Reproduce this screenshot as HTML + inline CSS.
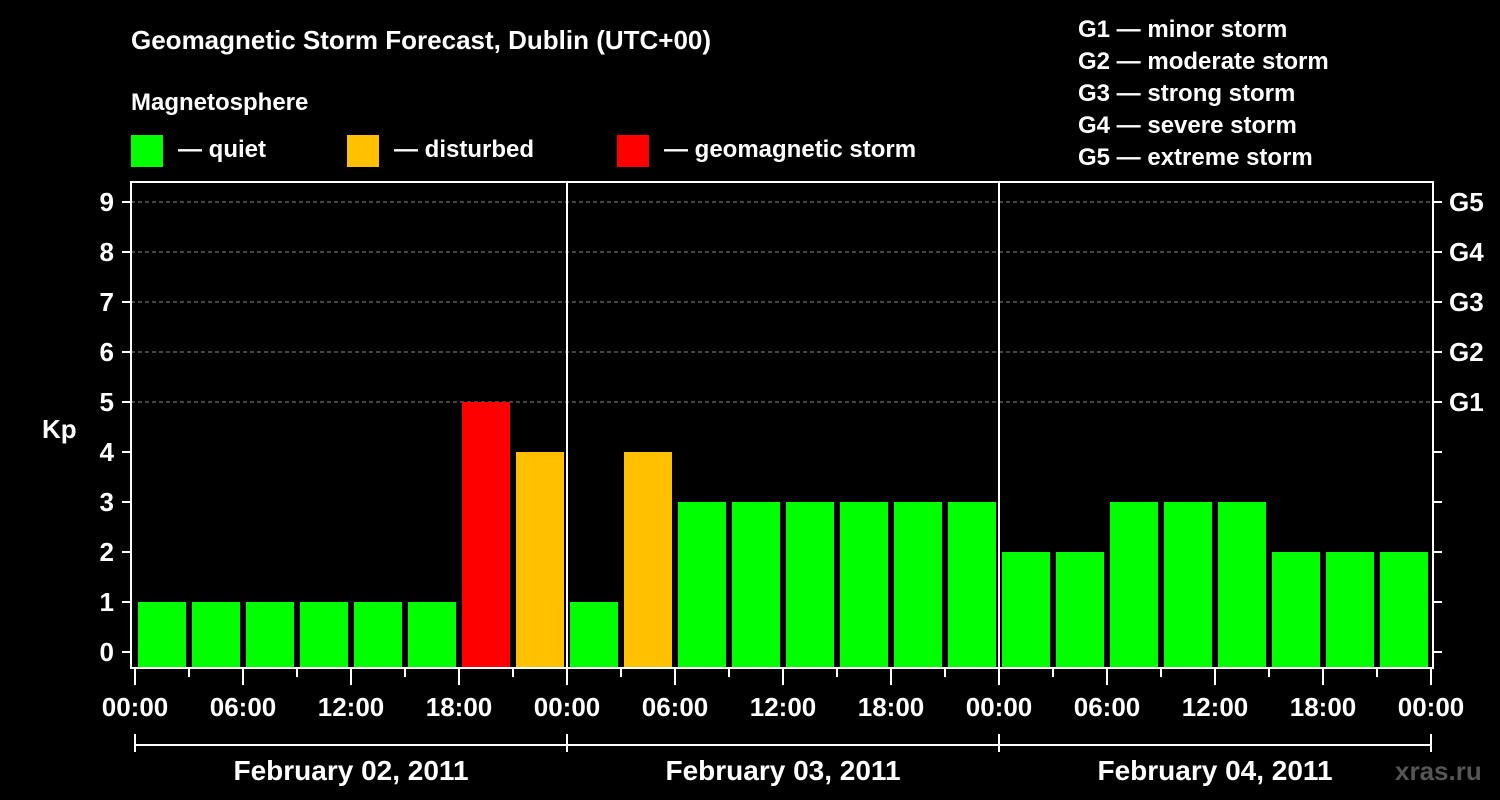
<!DOCTYPE html>
<html><head><meta charset="utf-8"><style>
html,body{margin:0;padding:0;background:#000;}
svg{display:block;font-family:"Liberation Sans",Arial,sans-serif;font-weight:bold;}
</style></head><body>
<svg id="chart" width="1500" height="800" viewBox="0 0 1500 800" xmlns="http://www.w3.org/2000/svg">
<rect width="1500" height="800" fill="#000"/>
<text x="131" y="49" fill="#fff" font-size="26">Geomagnetic Storm Forecast, Dublin (UTC+00)</text>
<text x="131" y="110" fill="#fff" font-size="24">Magnetosphere</text>
<g><rect x="131" y="135" width="32" height="32" fill="#00ff00"/><text x="178" y="157" fill="#fff" font-size="24">— quiet</text></g>
<g><rect x="347" y="135" width="32" height="32" fill="#ffc000"/><text x="394" y="157" fill="#fff" font-size="24">— disturbed</text></g>
<g><rect x="617" y="135" width="32" height="32" fill="#ff0000"/><text x="664" y="157" fill="#fff" font-size="24">— geomagnetic storm</text></g>
<g fill="#fff" font-size="24">
<text x="1078" y="37">G1 — minor storm</text>
<text x="1078" y="69">G2 — moderate storm</text>
<text x="1078" y="101">G3 — strong storm</text>
<text x="1078" y="133">G4 — severe storm</text>
<text x="1078" y="165">G5 — extreme storm</text>
</g>
<text x="42" y="438" fill="#fff" font-size="26">Kp</text>
<text x="1395" y="780" fill="#555" font-size="26">xras.ru</text>
<g id="grid"></g><g id="bars"></g><g id="axes"></g>
</svg>
<script>
const values = [1,1,1,1,1,1,5,4, 1,4,3,3,3,3,3,3, 2,2,3,3,3,2,2,2];
const dayLabels = ["February 02, 2011","February 03, 2011","February 04, 2011"];
const timeLabels = ["00:00","06:00","12:00","18:00"];
const kpTicks = [0,1,2,3,4,5,6,7,8,9];
const gLabels = ["G1","G2","G3","G4","G5"];

const NS="http://www.w3.org/2000/svg";
const x0=135, slot=54, plotL=131, plotR=1433, plotT=182, plotB=668;
const xPos=i=>x0+i*slot;
const yPos=v=>652-v*50;
function mk(tag,attrs,parent,text){const e=document.createElementNS(NS,tag);for(const k in attrs)e.setAttribute(k,attrs[k]);if(text!==undefined)e.textContent=text;parent.appendChild(e);return e;}
const grid=document.getElementById('grid'),bars=document.getElementById('bars'),axes=document.getElementById('axes');
function color(v){return v>=5?"#ff0000":(v>=4?"#ffc000":"#00ff00");}
for(let k=5;k<=9;k++){
  const l=mk('line',{x1:plotL,x2:plotR,y1:yPos(k),y2:yPos(k),stroke:"#888","stroke-width":1,"stroke-dasharray":"4,3"},grid);
  
  
}
values.forEach((v,i)=>{
  const r=mk('rect',{x:xPos(i)+3,y:yPos(v),width:48,height:plotB-yPos(v),fill:color(v)},bars);
  
  
});
// frame
const fr=mk('path',{d:`M${plotL} ${plotT}V${plotB}H${plotR}V${plotT}Z`,fill:"none",stroke:"#fff","stroke-width":2},axes);


for(let d=1;d<3;d++){
  const l=mk('line',{x1:xPos(d*8),x2:xPos(d*8),y1:plotT,y2:plotB,stroke:"#fff","stroke-width":2},axes);
  
  
}
kpTicks.forEach(k=>{
  mk('line',{x1:122,x2:plotL,y1:yPos(k),y2:yPos(k),stroke:"#fff","stroke-width":2},axes);
  mk('line',{x1:plotR,x2:1442,y1:yPos(k),y2:yPos(k),stroke:"#fff","stroke-width":2},axes);
  const t=mk('text',{x:114,y:yPos(k)+9,fill:"#fff","font-size":26,"text-anchor":"end"},axes,String(k));
  
  
});
gLabels.forEach((g,i)=>{
  const t=mk('text',{x:1449,y:yPos(5+i)+9,fill:"#fff","font-size":26},axes,g);
  
  
});
for(let i=0;i<=24;i++){
  const major=i%2===0;
  mk('line',{x1:xPos(i),x2:xPos(i),y1:plotB,y2:plotB+(major?17:9),stroke:"#fff","stroke-width":2},axes);
  if(major){
    const t=mk('text',{x:xPos(i),y:716,fill:"#fff","font-size":26,"text-anchor":"middle"},axes,timeLabels[(i/2)%4]);
    
    
  }
}
mk('line',{x1:xPos(0),x2:xPos(24),y1:745,y2:745,stroke:"#fff","stroke-width":2},axes);
for(let d=0;d<=3;d++) mk('line',{x1:xPos(d*8),x2:xPos(d*8),y1:734,y2:752,stroke:"#fff","stroke-width":2},axes);
dayLabels.forEach((s,d)=>{
  const t=mk('text',{x:xPos(d*8+4),y:780,fill:"#fff","font-size":28,"text-anchor":"middle"},axes,s);
  
  
});
</script>
</body></html>
